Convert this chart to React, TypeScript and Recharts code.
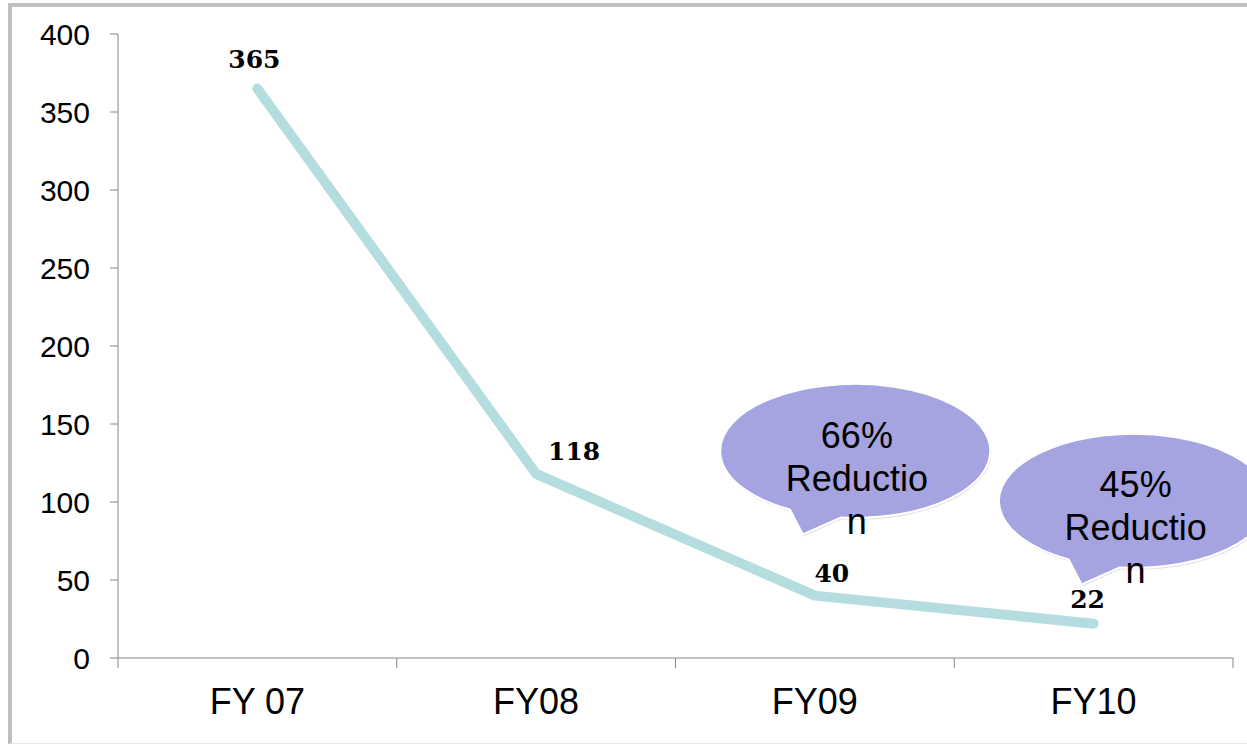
import React from 'react'
import { LineChart, Line, XAxis, YAxis, LabelList, ReferenceDot } from 'recharts'

const categories = ['FY 07', 'FY08', 'FY09', 'FY10']
const incidents = [365, 118, 40, 22]
const yTicks = [0, 50, 100, 150, 200, 250, 300, 350, 400]

// speech bubbles: which category they hang off and at what value level
const calloutCats = ['FY09', 'FY10']
const calloutLevels = [133, 101]
const calloutLines = [
  ['66%', 'Reductio', 'n'],
  ['45%', 'Reductio', 'n'],
]

const data = categories.map((c, i) => ({ cat: c, value: incidents[i] }))

const W = 1235
const H = 736
const M = { top: 27, right: 14, left: 0, bottom: 25 }
const Y_W = 106
const X_H = 60
const PLOT_BOTTOM = H - M.bottom - X_H
const BAND = (W - M.right - Y_W) / categories.length
const AXIS = '#868686'

// label nudges (dx, dy of baseline) per point
const labelNudge = [
  [-3, -21],
  [38, -14],
  [17, -14],
  [-6, -16],
]

const XTick = (props: any) => {
  const { x, payload, index } = props
  return (
    <g>
      <line x1={x - BAND / 2} x2={x - BAND / 2} y1={PLOT_BOTTOM} y2={PLOT_BOTTOM + 10} stroke={AXIS} />
      {index === categories.length - 1 && (
        <line x1={x + BAND / 2} x2={x + BAND / 2} y1={PLOT_BOTTOM} y2={PLOT_BOTTOM + 10} stroke={AXIS} />
      )}
      <text x={x} y={PLOT_BOTTOM + 43} dy="0.355em" textAnchor="middle" fill="#000"
        style={{ fontFamily: 'Liberation Sans, Arial, sans-serif', fontSize: 36 }}>
        {payload.value}
      </text>
    </g>
  )
}

const ValueLabel = (props: any) => {
  const { x, y, value, index } = props
  const [dx, dy] = labelNudge[index] || [0, -16]
  return (
    <text x={x + dx} y={y + dy} textAnchor="middle" fill="#000"
      style={{ fontFamily: 'DejaVu Serif, serif', fontWeight: 700, fontSize: 25 }}>
      {value}
    </text>
  )
}

const Bubble = (props: any) => {
  const { cx, cy, lines } = props
  const ox = cx + 44
  const rx = 135
  const ry = 67
  const s = [ox - 69, cy + 59]
  const tip = [ox - 56, cy + 84]
  const e = [ox - 18, cy + 67]
  const d = `M${s[0]},${s[1]} L${tip[0]},${tip[1]} L${e[0]},${e[1]} A${rx},${ry} 0 1 0 ${s[0]},${s[1]} Z`
  return (
    <g>
      <path d={d} transform="translate(1,2)" fill="#000" opacity={0.1} />
      <path d={d} fill="#A5A4E0" stroke="#fff" strokeWidth={2} />
      {lines.map((t: string, i: number) => (
        <text key={i} x={ox - 2} y={cy - 3 + i * 43} textAnchor="middle" fill="#000"
          style={{ fontFamily: 'Liberation Sans, Arial, sans-serif', fontSize: 36 }}>
          {t}
        </text>
      ))}
    </g>
  )
}

export default function App() {
  return (
    <div style={{
      position: 'absolute', left: 8, top: 3, width: W, height: H,
      borderLeft: '4px solid #BFBFBF', borderTop: '4px solid #BFBFBF',
      borderBottom: '1px solid #E8E8E8', background: '#fff',
    }}>
      <LineChart width={W} height={H} data={data} margin={M}>
        <XAxis dataKey="cat" scale="band" height={X_H} stroke={AXIS} tickLine={false}
          tick={<XTick />} interval={0} />
        <YAxis domain={[0, 400]} ticks={yTicks} width={Y_W} stroke={AXIS} tickSize={8}
          tickMargin={20} interval={0}
          tick={{ fill: '#000', fontSize: 30, fontFamily: 'Liberation Sans, Arial, sans-serif' }} />
        <Line dataKey="value" stroke="#B5DCDF" strokeWidth={10} strokeLinecap="round"
          strokeLinejoin="round" dot={false} isAnimationActive={false}>
          <LabelList dataKey="value" content={<ValueLabel />} />
        </Line>
        {calloutCats.map((c, i) => (
          <ReferenceDot key={c} x={c} y={calloutLevels[i]} r={0}
            shape={(p: any) => <Bubble {...p} lines={calloutLines[i]} />} />
        ))}
      </LineChart>
    </div>
  )
}
